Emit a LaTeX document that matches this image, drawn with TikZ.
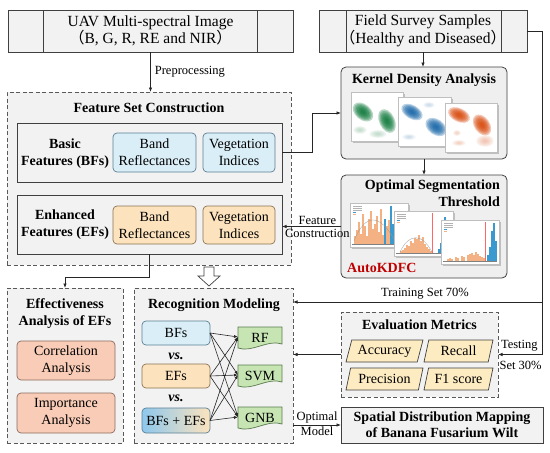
\documentclass[tikz,border=0pt]{standalone}
\usepackage{fontspec}
\setmainfont{Liberation Serif}
\newfontfamily\cjk{Noto Sans CJK SC}
\usetikzlibrary{arrows.meta,shapes.geometric,calc}
\definecolor{lineC}{HTML}{404040}
\definecolor{dashC}{HTML}{595959}
\definecolor{boxgray}{HTML}{F2F2F2}
\definecolor{kgray}{HTML}{EFEFEF}
\definecolor{blueF}{HTML}{DAEEF7}
\definecolor{blueD}{HTML}{5B7F95}
\definecolor{blueG}{HTML}{8EC8EC}
\definecolor{orangeF}{HTML}{FCE3BE}
\definecolor{orangeD}{HTML}{8C7455}
\definecolor{salmonF}{HTML}{F8CCB6}
\definecolor{salmonD}{HTML}{8C6B60}
\definecolor{greenF}{HTML}{C6E5B3}
\definecolor{greenD}{HTML}{5B7B4D}
\definecolor{paraF}{HTML}{FDEBC1}
\definecolor{autored}{HTML}{C00000}
\definecolor{kgreen}{HTML}{0E7A3A}
\definecolor{kblue}{HTML}{1666A8}
\definecolor{korange}{HTML}{D9480A}
\definecolor{hor}{HTML}{F4B183}
\definecolor{hbl}{HTML}{3A9AD0}
\newcommand\docpath[1]{%
  \draw[draw=greenD, fill=greenF, line width=0.7pt]
    (#1.north west) -- (#1.north east) -- ([yshift=3pt]#1.south east)
    .. controls ([xshift=-14pt,yshift=8pt]#1.south east) and ([xshift=14pt,yshift=-6pt]#1.south west)
    .. ([yshift=-1pt]#1.south west) -- cycle;}
% density blob: colour, x, y, rx, ry, angle, opacity per layer
\newcommand\kblob[7]{%
  \foreach \k in {1,...,7} {%
    \fill[#1, opacity=#7, rotate around={#6:(#2,#3)}] (#2,#3) ellipse ({#4*(1.1-\k/7.5)} and {#5*(1.1-\k/7.5)});}}
\begin{document}
\begin{tikzpicture}[x=1pt,y=-1pt,
  base/.style={font=\fontsize{14}{17}\selectfont, align=center, inner sep=1pt, outer sep=0pt},
  lbl/.style={font=\fontsize{12.5}{14}\selectfont, inner sep=1pt},
  ttl/.style={font=\bfseries\fontsize{14}{17}\selectfont, align=center, inner sep=1pt},
  graybox/.style={base, draw=lineC, fill=boxgray, line width=0.8pt},
  dashbox/.style={draw=dashC, fill=boxgray, line width=0.8pt, dash pattern=on 4pt off 2.5pt, outer sep=0pt},
  panel/.style={draw=lineC, fill=boxgray, line width=0.8pt, outer sep=0pt},
  kbox/.style={draw=lineC, fill=kgray, line width=0.8pt, rounded corners=5pt, outer sep=0pt},
  rbox/.style={base, rounded corners=4pt, line width=0.7pt},
  bluebox/.style={rbox, draw=blueD, fill=blueF},
  orangebox/.style={rbox, draw=orangeD, fill=orangeF},
  salmonbox/.style={rbox, draw=salmonD, fill=salmonF},
  docn/.style={minimum width=44pt, minimum height=20pt, inner sep=0pt, outer sep=0pt},
  para/.style={base, shape=trapezium, trapezium left angle=68, trapezium right angle=112,
     trapezium stretches body, draw=lineC, fill=paraF, line width=0.7pt, minimum height=22pt},
  conn/.style={-{Latex[length=4.5pt,width=3.5pt]}, line width=0.7pt, draw=black!85},
  conn2/.style={-{Latex[length=4pt,width=3pt]}, line width=0.6pt, draw=black!85}
]
\fill[white] (0,0) rectangle (550,453);
\useasboundingbox (0,0) rectangle (550,453);

% top boxes
\node[graybox, font=\fontsize{15.5}{16.5}\selectfont, minimum width=285pt, minimum height=42pt] (uav) at (150.5,31)
  {UAV Multi-spectral Image\\{\cjk （}B, G, R, RE and NIR{\cjk ）}};
\draw[lineC, line width=0.8pt] ([xshift=35pt]uav.north west) -- ([xshift=35pt]uav.south west);
\draw[lineC, line width=0.8pt] ([xshift=-36pt]uav.north east) -- ([xshift=-36pt]uav.south east);
\node[graybox, font=\fontsize{15.5}{16.5}\selectfont, minimum width=208pt, minimum height=42pt] (field) at (423,31)
  {Field Survey Samples\\{\cjk （}Healthy and Diseased{\cjk ）}};
\draw[lineC, line width=0.8pt] ([xshift=27pt]field.north west) -- ([xshift=27pt]field.south west);
\draw[lineC, line width=0.8pt] ([xshift=-26pt]field.north east) -- ([xshift=-26pt]field.south east);

% feature set construction
\node[dashbox, minimum width=284pt, minimum height=173pt] (fsc) at (149,178.5) {};
\node[ttl] (fsct) at (149,108) {Feature Set Construction};
\node[panel, minimum width=265pt, minimum height=59pt] (bf) at (149.5,152.5) {};
\node[ttl] (bft) at (65,154) {Basic\\Features (BFs)};
\node[bluebox, minimum width=83pt, minimum height=39pt] (bfb) at (154.5,152.5) {Band\\Reflectances};
\node[bluebox, minimum width=72pt, minimum height=39pt] (bfv) at (239,152.5) {Vegetation\\Indices};
\node[panel, minimum width=265pt, minimum height=59pt] (ef) at (149.5,224.5) {};
\node[ttl] (eft) at (65,225) {Enhanced\\Features (EFs)};
\node[orangebox, minimum width=83pt, minimum height=38pt] (efb) at (154.5,225) {Band\\Reflectances};
\node[orangebox, minimum width=72pt, minimum height=38pt] (efv) at (239,225) {Vegetation\\Indices};

\draw[conn] (uav.south) -- (uav.south |- fsc.north) node[lbl, midway, right=3pt] (pre) {Preprocessing};

% kernel density analysis
\node[kbox, minimum width=166pt, minimum height=92pt] (kda) at (424,113) {};
\node[ttl] (kdat) at (424,80) {Kernel Density Analysis};
\begin{scope}[shift={(351,92)}]
  \fill[black!25] (1.5,1.5) rectangle (53.5,50.5);
  \fill[white] (0,0) rectangle (52,49);
  \draw[black!25, line width=0.3pt] (0,0) rectangle (52,49);
  \kblob{kgreen!40}{9}{38}{7}{4}{0}{0.12}
  \kblob{kgreen!40}{27}{42}{9}{4}{0}{0.12}
  \kblob{kgreen}{12}{20}{12}{8}{-40}{0.3}
  \kblob{kgreen}{36}{29}{13}{8}{-65}{0.3}
\end{scope}
\begin{scope}[shift={(398,97)}]
  \fill[black!25] (1.5,1.5) rectangle (54.5,50.5);
  \fill[white] (0,0) rectangle (53,49);
  \draw[black!25, line width=0.3pt] (0,0) rectangle (53,49);
  \kblob{kblue!40}{11}{40}{7}{3}{0}{0.1}
  \kblob{kblue!40}{31}{8}{6}{3}{0}{0.1}
  \kblob{kblue}{14}{15}{12}{7}{-30}{0.3}
  \kblob{kblue}{38}{30}{12}{8}{-35}{0.3}
\end{scope}
\begin{scope}[shift={(445,103)}]
  \fill[black!25] (1.5,1.5) rectangle (53.5,50.5);
  \fill[white] (0,0) rectangle (52,49);
  \draw[black!25, line width=0.3pt] (0,0) rectangle (52,49);
  \kblob{korange!40}{12}{30}{4}{3}{0}{0.12}
  \kblob{korange!40}{14}{40}{7}{3}{0}{0.12}
  \kblob{korange!50}{40}{38}{9}{6}{0}{0.12}
  \kblob{korange}{14}{12}{12}{7}{-25}{0.3}
  \kblob{korange}{37}{22}{12}{8}{-55}{0.3}
\end{scope}

% optimal segmentation threshold
\node[kbox, minimum width=166pt, minimum height=103pt] (ost) at (424,226.5) {};
\node[ttl, align=right, anchor=east] (ostt) at (501,193.5) {Optimal Segmentation\\Threshold};
\begin{scope}[shift={(350,203)}]
  \fill[black!25] (1.5,1.5) rectangle (59.5,45.5);
  \fill[white] (0,0) rectangle (58,44);
  \draw[black!25, line width=0.3pt] (0,0) rectangle (58,44);
  \foreach \yy in {3,5,7} \draw[black!30, line width=0.4pt] (3,\yy) -- (12,\yy);
  \fill[hbl] (3,8.6) rectangle (6,9.6); \fill[hor] (3,10.6) rectangle (6,11.6);
  \foreach \i/\h in {4/8,6/14,8/22,10/10,12/30,14/18,16/8,18/25,20/33,22/15,24/20,26/28,28/12,30/35,32/9,36/18,38/24,52/6}
    \fill[hor] (\i,41) rectangle ++(1.8,-\h);
  \foreach \i/\h in {34/25,40/38,42/20,44/32,46/12,48/28,50/8}
    \fill[hbl] (\i,41) rectangle ++(1.8,-\h);
  \draw[black!40, line width=0.3pt] (4,38) .. controls (15,10) and (30,10) .. (45,38);
  \draw[black!50, line width=0.3pt] (2,41) -- (56,41);
\end{scope}
\begin{scope}[shift={(394,211)}]
  \fill[black!25] (1.5,1.5) rectangle (60.5,46.5);
  \fill[white] (0,0) rectangle (59,45);
  \draw[black!25, line width=0.3pt] (0,0) rectangle (59,45);
  \foreach \yy in {3,5,7} \draw[black!30, line width=0.4pt] (3,\yy) -- (12,\yy);
  \fill[hbl] (3,8.6) rectangle (6,9.6); \fill[hor] (3,10.6) rectangle (6,11.6);
  \draw[red!60, line width=0.4pt] (38,2) -- (38,42);
  \foreach \i/\h in {6/2,8/3,10/5,12/8,14/7,16/12,18/10,20/15,22/14,24/18,26/12,28/16,30/9,32/6,34/4,36/2}
    \fill[hor] (\i,42) rectangle ++(1.8,-\h);
  \foreach \i/\h in {44/4,46/10,48/30,50/36,52/22}
    \fill[hbl] (\i,42) rectangle ++(1.8,-\h);
  \draw[black!40, line width=0.3pt] (6,41) .. controls (15,22) and (28,22) .. (38,41);
  \draw[black!50, line width=0.3pt] (2,42) -- (57,42);
\end{scope}
\begin{scope}[shift={(441,220)}]
  \fill[black!25] (1.5,1.5) rectangle (59.5,45.5);
  \fill[white] (0,0) rectangle (58,44);
  \draw[black!25, line width=0.3pt] (0,0) rectangle (58,44);
  \foreach \yy in {3,5,7} \draw[black!30, line width=0.4pt] (3,\yy) -- (12,\yy);
  \fill[hbl] (3,8.6) rectangle (6,9.6); \fill[hor] (3,10.6) rectangle (6,11.6);
  \draw[red!60, line width=0.4pt] (44,2) -- (44,41);
  \foreach \i/\h in {6/2,8/3,10/2,14/4,16/3,20/5,22/4,26/6,28/7,30/8,32/6,34/9,36/7,38/5,40/4,42/3}
    \fill[hor] (\i,41) rectangle ++(1.8,-\h);
  \foreach \i/\h in {46/6,48/14,50/30,52/38,54/20}
    \fill[hbl] (\i,41) rectangle ++(1.8,-\h);
  \draw[black!50, line width=0.3pt] (2,41) -- (56,41);
\end{scope}
\node[font=\bfseries\fontsize{14}{16}\selectfont, text=autored, anchor=west, inner sep=0pt] (auto) at (347,268) {AutoKDFC};

\draw[conn] (field.south) -- (field.south |- kda.north);
\draw[conn] (kda.south) -- (ost.north);
\draw[conn] (bf.east) -- ++(30,0) |- (kda.west);
\draw[conn] (ost.west) -- (ost.west -| ef.east)
  node[lbl, pos=0.4, above=0.5pt] (fc1) {Feature}
  node[lbl, pos=0.4, below=1.5pt] (fc2) {Construction};

% hollow arrow
\draw[draw=lineC, fill=white, line width=0.7pt, line join=miter]
  (204,267) -- (214,267) -- (214,276) -- (220,276) -- (209,286) -- (198,276) -- (204,276) -- cycle;

% effectiveness analysis
\draw[conn] (ef.south) -- ++(0,23) -| (65,288);
\node[dashbox, minimum width=116pt, minimum height=155pt] (eff) at (65,365.5) {};
\node[ttl] (efft) at (65,313.5) {Effectiveness\\Analysis of EFs};
\node[salmonbox, minimum width=98pt, minimum height=39pt] (corr) at (66,360.5) {Correlation\\Analysis};
\node[salmonbox, minimum width=98pt, minimum height=40pt] (imp) at (66,413) {Importance\\Analysis};

% recognition modeling
\node[dashbox, minimum width=159pt, minimum height=155pt] (rm) at (213.5,365.5) {};
\node[ttl] (rmt) at (214,305) {Recognition Modeling};
\node[bluebox, minimum width=68pt, minimum height=24pt] (mb) at (176,333) {BFs};
\node[ttl, font=\bfseries\itshape\fontsize{14}{17}\selectfont] (vs1) at (176,356) {vs.};
\node[orangebox, minimum width=68pt, minimum height=24pt] (me) at (176,376) {EFs};
\node[ttl, font=\bfseries\itshape\fontsize{14}{17}\selectfont] (vs2) at (176,398) {vs.};
\node[rbox, draw=blueD, left color=blueG, right color=orangeF, minimum width=68pt, minimum height=25pt] (mbe) at (176,420.5) {BFs + EFs};
\node[docn] (rf) at (260,337) {};
\docpath{rf}
\node[base] (rft) at (260,338) {RF};
\node[docn] (svm) at (260,375) {};
\docpath{svm}
\node[base] (svmt) at (260,376) {SVM};
\node[docn] (gnb) at (260,417) {};
\docpath{gnb}
\node[base] (gnbt) at (260,418) {GNB};
\foreach \a in {mb,me,mbe}
  \foreach \b in {rf,svm,gnb}
    \draw[conn2] (\a.east) -- (\b.west);

% evaluation metrics
\node[dashbox, minimum width=157pt, minimum height=85pt] (eval) at (419.5,354.5) {};
\node[ttl] (evalt) at (419.5,325) {Evaluation Metrics};
\node[para, minimum width=77pt] (acc) at (384.5,351) {Accuracy};
\node[para, minimum width=69pt] (rec) at (458.5,351) {Recall};
\node[para, minimum width=77pt] (prec) at (384.5,379) {Precision};
\node[para, minimum width=69pt] (f1) at (458.5,379) {F1 score};

% spatial distribution
\node[graybox, font=\bfseries\fontsize{14}{16}\selectfont, minimum width=202pt, minimum height=36pt] (sdm) at (442,425)
  {Spatial Distribution Mapping\\of Banana Fusarium Wilt};

% connectors on the right
\draw[conn] (field.east) -- ++(15,0) coordinate (tr) |- ([yshift=-14pt]rm.north east)
  node[lbl, pos=0.735, above=1pt] (trl) {Training Set 70\%};
\draw[conn] (tr) |- (eval.east)
  node[lbl, pos=0.5, anchor=south east, xshift=-3pt, yshift=2pt] (tst1) {Testing}
  node[lbl, pos=0.5, anchor=north east, xshift=1pt, yshift=-5pt] (tst2) {Set 30\%};
\draw[conn] (eval.west) -- (eval.west -| rm.east);
\draw[conn] (rm.east |- sdm.west) -- (sdm.west)
  node[lbl, midway, above=0.5pt] (om1) {Optimal}
  node[lbl, midway, below=0.5pt] (om2) {Model};
\end{tikzpicture}
\end{document}
